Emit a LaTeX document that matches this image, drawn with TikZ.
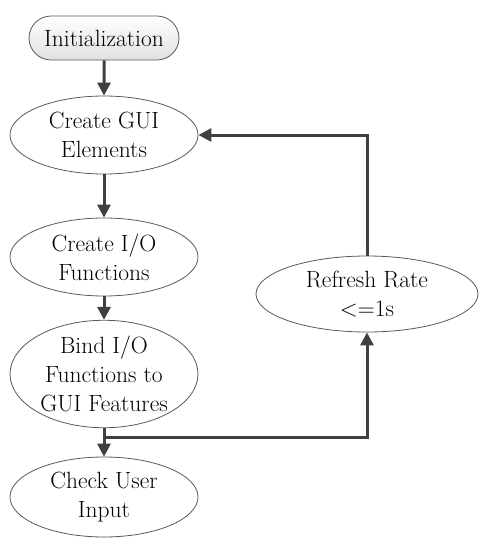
\documentclass[tikz,border=0pt]{standalone}
\usetikzlibrary{shapes.geometric,shapes.misc,arrows.meta}
\begin{document}
\begin{tikzpicture}[x=1pt,y=-1pt,
 ell/.style={ellipse,draw=black!65,line width=0.8pt,minimum width=188pt,minimum height=78pt,inner sep=0pt,align=center,font=\fontsize{23.5}{29}\selectfont},
 stadium/.style={rounded rectangle,draw=black!65,line width=0.8pt,minimum width=150pt,minimum height=44pt,inner sep=0pt,top color=white,bottom color=black!12,font=\fontsize{23.5}{29}\selectfont},
 link/.style={draw=black!75,line width=3pt,-{Triangle[width=13pt,length=13pt]}}]
\useasboundingbox (0,0) rectangle (488,550);
\node[stadium] (init) at (104,38) {Initialization};
\node[ell] (gui) at (104,135) {Create GUI\\Elements};
\node[ell] (io) at (104,257) {Create I/O\\Functions};
\node[ell,minimum height=98pt] (bind) at (104,374) {Bind I/O\\Functions to\\GUI Features};
\node[ell,minimum height=80pt] (check) at (104,497) {Check User\\Input};
\node[ell,minimum width=222pt,minimum height=76pt] (ref) at (367,294) {Refresh Rate\\<=1s};
\coordinate (j) at (104,437);
\draw[link] (init) -- (gui);
\draw[link] (gui) -- (io);
\draw[link] (io) -- (bind);
\draw[link] (bind) -- (check);
\draw[link] (j) -| (ref.south);
\draw[link] (ref.north) |- (gui.east);
\end{tikzpicture}
\end{document}
